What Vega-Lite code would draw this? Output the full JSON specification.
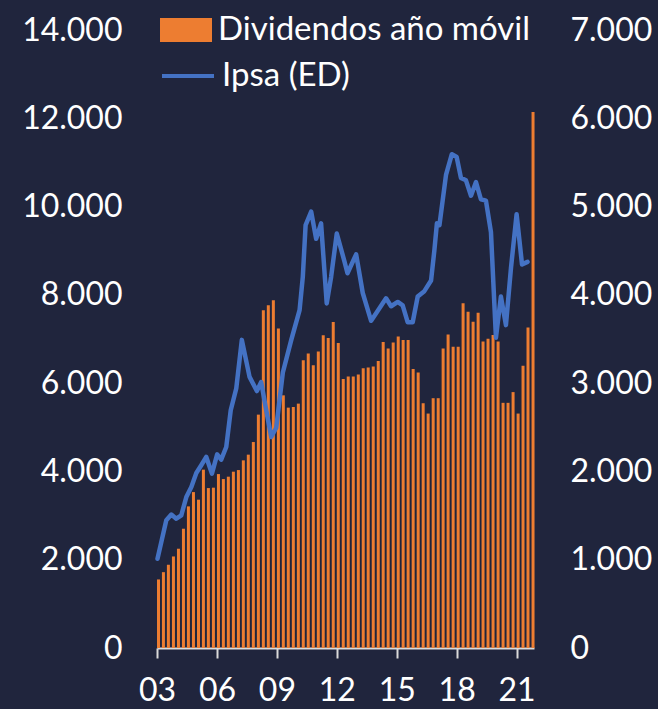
{
  "$schema": "https://vega.github.io/schema/vega-lite/v6.json",
  "width": 377,
  "height": 618,
  "autosize": {"type": "none"},
  "padding": {"left": 157, "top": 30, "right": 124, "bottom": 61},
  "background": "#20253D",
  "config": {
    "view": {"stroke": null},
    "font": "Lato",
    "axis": {"grid": false, "labelColor": "#FFFFFF", "labelFontSize": 32, "labelFont": "Lato", "title": null},
    "legend": {"labelColor": "#FFFFFF", "labelFontSize": 33, "labelFont": "Lato", "labelLimit": 600}
  },
  "datasets": {
    "div": [
      {"fecha": "2003-01-01", "dividendos": 1553},
      {"fecha": "2003-04-01", "dividendos": 1718},
      {"fecha": "2003-07-01", "dividendos": 1886},
      {"fecha": "2003-10-01", "dividendos": 2074},
      {"fecha": "2004-01-01", "dividendos": 2249},
      {"fecha": "2004-04-01", "dividendos": 2702},
      {"fecha": "2004-07-01", "dividendos": 3208},
      {"fecha": "2004-10-01", "dividendos": 3532},
      {"fecha": "2005-01-01", "dividendos": 3360},
      {"fecha": "2005-04-01", "dividendos": 4040},
      {"fecha": "2005-07-01", "dividendos": 3623},
      {"fecha": "2005-10-01", "dividendos": 3632},
      {"fecha": "2006-01-01", "dividendos": 3940},
      {"fecha": "2006-04-01", "dividendos": 3827},
      {"fecha": "2006-07-01", "dividendos": 3881},
      {"fecha": "2006-10-01", "dividendos": 3994},
      {"fecha": "2007-01-01", "dividendos": 4031},
      {"fecha": "2007-04-01", "dividendos": 4251},
      {"fecha": "2007-07-01", "dividendos": 4380},
      {"fecha": "2007-10-01", "dividendos": 4666},
      {"fecha": "2008-01-01", "dividendos": 5287},
      {"fecha": "2008-04-01", "dividendos": 7651},
      {"fecha": "2008-07-01", "dividendos": 7765},
      {"fecha": "2008-10-01", "dividendos": 7878},
      {"fecha": "2009-01-01", "dividendos": 7236},
      {"fecha": "2009-04-01", "dividendos": 5724},
      {"fecha": "2009-07-01", "dividendos": 5445},
      {"fecha": "2009-10-01", "dividendos": 5460},
      {"fecha": "2010-01-01", "dividendos": 5536},
      {"fecha": "2010-04-01", "dividendos": 6518},
      {"fecha": "2010-07-01", "dividendos": 6669},
      {"fecha": "2010-10-01", "dividendos": 6404},
      {"fecha": "2011-01-01", "dividendos": 6714},
      {"fecha": "2011-04-01", "dividendos": 7085},
      {"fecha": "2011-07-01", "dividendos": 7024},
      {"fecha": "2011-10-01", "dividendos": 7386},
      {"fecha": "2012-01-01", "dividendos": 6911},
      {"fecha": "2012-04-01", "dividendos": 6094},
      {"fecha": "2012-07-01", "dividendos": 6153},
      {"fecha": "2012-10-01", "dividendos": 6153},
      {"fecha": "2013-01-01", "dividendos": 6193},
      {"fecha": "2013-04-01", "dividendos": 6339},
      {"fecha": "2013-07-01", "dividendos": 6357},
      {"fecha": "2013-10-01", "dividendos": 6379},
      {"fecha": "2014-01-01", "dividendos": 6502},
      {"fecha": "2014-04-01", "dividendos": 6930},
      {"fecha": "2014-07-01", "dividendos": 6785},
      {"fecha": "2014-10-01", "dividendos": 6923},
      {"fecha": "2015-01-01", "dividendos": 7059},
      {"fecha": "2015-04-01", "dividendos": 6980},
      {"fecha": "2015-07-01", "dividendos": 6980},
      {"fecha": "2015-10-01", "dividendos": 6323},
      {"fecha": "2016-01-01", "dividendos": 6243},
      {"fecha": "2016-04-01", "dividendos": 5545},
      {"fecha": "2016-07-01", "dividendos": 5311},
      {"fecha": "2016-10-01", "dividendos": 5659},
      {"fecha": "2017-01-01", "dividendos": 5659},
      {"fecha": "2017-04-01", "dividendos": 6785},
      {"fecha": "2017-07-01", "dividendos": 7100},
      {"fecha": "2017-10-01", "dividendos": 6826},
      {"fecha": "2018-01-01", "dividendos": 6826},
      {"fecha": "2018-04-01", "dividendos": 7812},
      {"fecha": "2018-07-01", "dividendos": 7619},
      {"fecha": "2018-10-01", "dividendos": 7393},
      {"fecha": "2019-01-01", "dividendos": 7594},
      {"fecha": "2019-04-01", "dividendos": 6946},
      {"fecha": "2019-07-01", "dividendos": 7003},
      {"fecha": "2019-10-01", "dividendos": 7093},
      {"fecha": "2020-01-01", "dividendos": 6946},
      {"fecha": "2020-04-01", "dividendos": 5554},
      {"fecha": "2020-07-01", "dividendos": 5554},
      {"fecha": "2020-10-01", "dividendos": 5797},
      {"fecha": "2021-01-01", "dividendos": 5311},
      {"fecha": "2021-04-01", "dividendos": 6395},
      {"fecha": "2021-07-01", "dividendos": 7263},
      {"fecha": "2021-10-01", "dividendos": 12144}
    ],
    "ipsa": [
      {"fecha": "2003-01-10", "ipsa": 1010},
      {"fecha": "2003-06-20", "ipsa": 1446},
      {"fecha": "2003-09-20", "ipsa": 1511},
      {"fecha": "2003-12-20", "ipsa": 1465},
      {"fecha": "2004-03-20", "ipsa": 1503},
      {"fecha": "2004-06-20", "ipsa": 1710},
      {"fecha": "2004-09-20", "ipsa": 1824},
      {"fecha": "2004-12-20", "ipsa": 1982},
      {"fecha": "2005-03-20", "ipsa": 2070},
      {"fecha": "2005-06-20", "ipsa": 2164},
      {"fecha": "2005-10-01", "ipsa": 1975},
      {"fecha": "2006-01-05", "ipsa": 2194},
      {"fecha": "2006-03-20", "ipsa": 2134},
      {"fecha": "2006-06-20", "ipsa": 2277},
      {"fecha": "2006-09-10", "ipsa": 2693},
      {"fecha": "2006-12-20", "ipsa": 2939},
      {"fecha": "2007-04-01", "ipsa": 3490},
      {"fecha": "2007-08-20", "ipsa": 3071},
      {"fecha": "2008-01-01", "ipsa": 2910},
      {"fecha": "2008-03-20", "ipsa": 3012},
      {"fecha": "2008-06-20", "ipsa": 2693},
      {"fecha": "2008-09-20", "ipsa": 2390},
      {"fecha": "2008-12-20", "ipsa": 2495},
      {"fecha": "2009-04-20", "ipsa": 3120},
      {"fecha": "2009-09-20", "ipsa": 3487},
      {"fecha": "2010-02-20", "ipsa": 3827},
      {"fecha": "2010-04-20", "ipsa": 4205},
      {"fecha": "2010-06-10", "ipsa": 4791},
      {"fecha": "2010-09-20", "ipsa": 4942},
      {"fecha": "2010-12-20", "ipsa": 4635},
      {"fecha": "2011-03-20", "ipsa": 4810},
      {"fecha": "2011-07-01", "ipsa": 3903},
      {"fecha": "2011-09-20", "ipsa": 4205},
      {"fecha": "2012-01-01", "ipsa": 4695},
      {"fecha": "2012-05-20", "ipsa": 4380},
      {"fecha": "2012-07-15", "ipsa": 4245},
      {"fecha": "2012-12-20", "ipsa": 4459},
      {"fecha": "2013-04-20", "ipsa": 4021},
      {"fecha": "2013-09-20", "ipsa": 3706},
      {"fecha": "2014-01-20", "ipsa": 3819},
      {"fecha": "2014-06-20", "ipsa": 3961},
      {"fecha": "2014-09-20", "ipsa": 3871},
      {"fecha": "2015-01-20", "ipsa": 3920},
      {"fecha": "2015-04-20", "ipsa": 3880},
      {"fecha": "2015-07-20", "ipsa": 3690},
      {"fecha": "2015-10-20", "ipsa": 3690},
      {"fecha": "2016-01-20", "ipsa": 3981},
      {"fecha": "2016-05-20", "ipsa": 4042},
      {"fecha": "2016-09-20", "ipsa": 4163},
      {"fecha": "2016-11-20", "ipsa": 4508},
      {"fecha": "2017-01-05", "ipsa": 4811},
      {"fecha": "2017-02-20", "ipsa": 4790},
      {"fecha": "2017-06-20", "ipsa": 5358},
      {"fecha": "2017-10-05", "ipsa": 5593},
      {"fecha": "2018-01-01", "ipsa": 5561},
      {"fecha": "2018-03-20", "ipsa": 5325},
      {"fecha": "2018-06-20", "ipsa": 5297},
      {"fecha": "2018-09-20", "ipsa": 5123},
      {"fecha": "2018-12-20", "ipsa": 5278},
      {"fecha": "2019-03-20", "ipsa": 5083},
      {"fecha": "2019-06-20", "ipsa": 5067},
      {"fecha": "2019-09-20", "ipsa": 4710},
      {"fecha": "2019-12-20", "ipsa": 3515},
      {"fecha": "2020-03-20", "ipsa": 3981},
      {"fecha": "2020-06-20", "ipsa": 3657},
      {"fecha": "2020-09-20", "ipsa": 4305},
      {"fecha": "2021-01-01", "ipsa": 4913},
      {"fecha": "2021-04-10", "ipsa": 4345},
      {"fecha": "2021-07-20", "ipsa": 4374}
    ]
  },
  "layer": [
    {
      "data": {"name": "div"},
      "mark": {"type": "bar", "width": 3, "xOffset": 1.5},
      "encoding": {
        "x": {
          "field": "fecha",
          "type": "temporal",
          "scale": {"domain": [{"year": 2003, "month": 1, "date": 1}, {"year": 2021, "month": 11, "date": 15}], "nice": false, "padding": 0},
          "axis": {
            "values": [{"year": 2003, "month": 1, "date": 1}, {"year": 2006, "month": 1, "date": 1}, {"year": 2009, "month": 1, "date": 1}, {"year": 2012, "month": 1, "date": 1}, {"year": 2015, "month": 1, "date": 1}, {"year": 2018, "month": 1, "date": 1}, {"year": 2021, "month": 1, "date": 1}],
            "format": "%y",
            "domainColor": "#D9D9D9",
            "domainWidth": 2,
            "tickColor": "#D9D9D9",
            "tickWidth": 2,
            "tickSize": 10,
            "labelPadding": 17,
            "labelFlush": false,
            "labelOverlap": false
          }
        },
        "y": {
          "field": "dividendos",
          "type": "quantitative",
          "scale": {"domain": [0, 14000], "nice": false},
          "axis": {
            "orient": "left",
            "values": [0, 2000, 4000, 6000, 8000, 10000, 12000, 14000],
            "labelExpr": "replace(format(datum.value, ',.0f'), ',', '.')",
            "domain": false,
            "ticks": false,
            "labelPadding": 35
          }
        },
        "color": {
          "datum": "Dividendos año móvil",
          "scale": {"range": ["#ED7D31"]},
          "legend": {
            "orient": "none",
            "legendX": 3,
            "legendY": -26,
            "title": null,
            "padding": 0,
            "symbolType": "M-1,-0.46H1V0.46H-1Z",
            "symbolSize": 2704,
            "symbolStrokeWidth": 0,
            "symbolOpacity": 1,
            "labelOffset": 6
          }
        }
      }
    },
    {
      "data": {"name": "ipsa"},
      "mark": {"type": "line", "strokeWidth": 4.5, "strokeJoin": "round", "strokeCap": "round"},
      "encoding": {
        "x": {"field": "fecha", "type": "temporal"},
        "y": {
          "field": "ipsa",
          "type": "quantitative",
          "scale": {"domain": [0, 7000], "nice": false},
          "axis": {
            "orient": "right",
            "values": [0, 1000, 2000, 3000, 4000, 5000, 6000, 7000],
            "labelExpr": "replace(format(datum.value, ',.0f'), ',', '.')",
            "domain": false,
            "ticks": false,
            "labelPadding": 36
          }
        },
        "stroke": {
          "datum": "Ipsa (ED)",
          "scale": {"range": ["#4472C4"]},
          "legend": {
            "orient": "none",
            "legendX": 3,
            "legendY": 18,
            "title": null,
            "padding": 0,
            "symbolType": "stroke",
            "symbolSize": 2704,
            "symbolStrokeWidth": 4,
            "labelOffset": 6
          }
        }
      }
    }
  ],
  "resolve": {"scale": {"y": "independent"}}
}
